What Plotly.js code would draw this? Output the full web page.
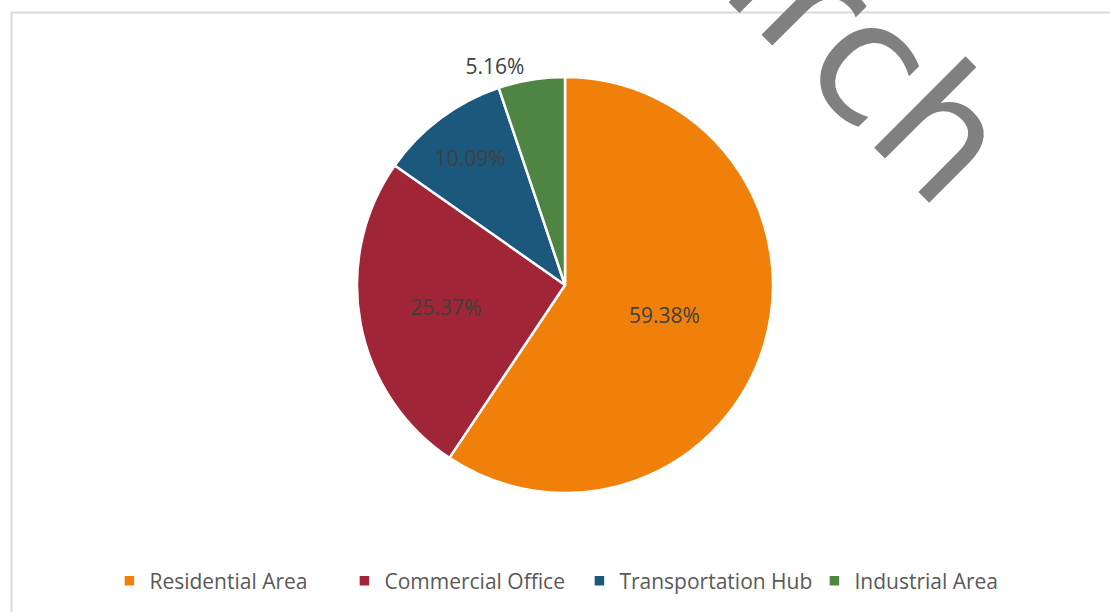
<!DOCTYPE html>
<html>
<head>
<meta charset="utf-8">
<script src="https://cdn.plot.ly/plotly-3.0.1.min.js"></script>
<style>
  body { margin: 0; background: #fff; }
  #pieArea { width: 1110px; height: 612px; }
</style>
</head>
<body>
<div id="pieArea"></div>
<script>
// data
let areas = ["Residential Area", "Commercial Office", "Transportation Hub", "Industrial Area"];
let shares = [59.38, 25.37, 10.09, 5.16];
let sliceColors = ["#F0800A", "#A02536", "#1C587C", "#4E8542"];
let labelSpots = ["inside", "inside", "inside", "outside"];

let pie = {
    type: "pie",
    labels: areas,
    values: shares,
    sort: false,
    direction: "clockwise",
    rotation: 0,
    marker: {colors: sliceColors, line: {color: "#ffffff", width: 2.5}},
    textinfo: "text",
    text: shares.map(v => v.toFixed(2) + "%"),
    textposition: labelSpots,
    insidetextorientation: "horizontal",
    insidetextfont: {family: "Open Sans, sans-serif", size: 21, color: "#404040"},
    outsidetextfont: {family: "Open Sans, sans-serif", size: 21, color: "#404040"},
    hoverinfo: "label+percent",
    domain: {x: [357 / 1110, 773 / 1110], y: [1 - 493 / 612, 1 - 77 / 612]}
};

let layout = {
    width: 1110,
    height: 612,
    margin: {l: 0, r: 0, t: 0, b: 0},
    paper_bgcolor: "#ffffff",
    showlegend: true,
    legend: {
        orientation: "h",
        x: 0.522, xanchor: "center",
        y: 1 - 581 / 612, yanchor: "middle",
        font: {family: "Open Sans, sans-serif", size: 21, color: "#595959"},
        itemwidth: 30,
        entrywidth: 190,
        tracegroupgap: 0
    },
    shapes: [{
        type: "rect", xref: "paper", yref: "paper",
        x0: 11.5 / 1110, x1: 1.05, y0: -0.05, y1: 1 - 12.5 / 612,
        line: {color: "#D9D9D9", width: 2}, fillcolor: "rgba(0,0,0,0)"
    }],
    annotations: [{
        text: "arch", xref: "paper", yref: "paper",
        x: 850 / 1110, y: 1 - 40 / 612, xanchor: "center", yanchor: "middle",
        showarrow: false, textangle: 45,
        font: {family: "DejaVu Sans, sans-serif", size: 170, color: "#808080"}
    }]
};

Plotly.newPlot("pieArea", [pie], layout, {displayModeBar: false});
</script>
</body>
</html>
